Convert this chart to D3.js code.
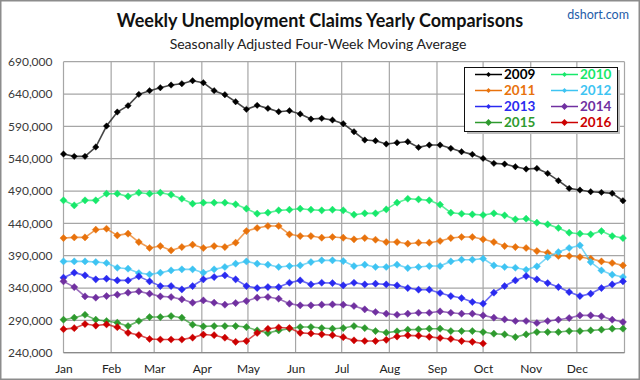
<!DOCTYPE html>
<html>
<head>
<meta charset="utf-8">
<style>
  body { margin: 0; background: #fff; }
  svg text { font-family: Lato, "Open Sans", sans-serif; }
</style>
</head>
<body>
<svg id="chart" width="640" height="380"></svg>
<script src="https://cdn.jsdelivr.net/npm/d3@7/dist/d3.min.js"></script>
<script>
'use strict';

// ========== data (initial claims, thousands, one value per week)

const years = ['2009', '2010', '2011', '2012', '2013', '2014', '2015', '2016'];
const colors = ['#000000', '#17e86b', '#e8720c', '#3ec4f2', '#2a2af0', '#7030a0', '#2e9a2e', '#cc0000'];
const months = ['Jan', 'Feb', 'Mar', 'Apr', 'May', 'Jun', 'Jul', 'Aug', 'Sep', 'Oct', 'Nov', 'Dec'];
const monthStart = [0, 31, 59, 90, 120, 151, 181, 212, 243, 273, 304, 334];
const yTicks = [240, 290, 340, 390, 440, 490, 540, 590, 640, 690];

const y2009 = [547.2, 543.6, 543.6, 558, 590.5, 612.2, 622, 639.5, 645.2, 649.8, 653.9, 656, 660.6,
  657.5, 645.2, 639, 628.1, 616.3, 622.5, 617.8, 612.7, 614.2, 609.1, 601.3, 602.4, 599.8, 594.1,
  581.7, 568.9, 567.8, 562.7, 564.7, 566.3, 557.5, 561.1, 561.1, 556, 550.8, 546.7, 540.5,
  532.8, 531.7, 527.6, 524, 525, 517.3, 506, 494.1, 491.5, 489, 487.9, 486.4, 475];
const y2010 = [475.6, 467.8, 475.6, 475.6, 485.9, 485.9, 481.8, 487.4, 485.9, 487.4, 484.3, 478.1, 470.4,
  472, 472, 472, 469.4, 462.7, 455, 456.5, 460.1, 461.1, 462.7, 461.1, 460.1, 461.1, 460.1,
  453.4, 455.5, 455.5, 461.6, 472, 478.1, 477.1, 475.6, 468.9, 456.5, 454.9, 453.9, 452.9,
  455.5, 452.4, 446.2, 447.2, 441, 438.4, 432.8, 425.6, 424, 423, 428.1, 420.4, 417.3];
const y2011 = [417.3, 418.3, 418.3, 430.2, 431.7, 421.4, 424, 411.1, 401.9, 404.9, 398.2, 403.4, 407,
  401.9, 404.9, 403.4, 410.1, 428.1, 432.8, 435.9, 435.9, 423, 420.4, 420.4, 417.8, 418.9, 417.8,
  415.3, 417.3, 414.7, 411.1, 411.1, 408.6, 410.1, 410.1, 412.7, 417.3, 418.9, 418.9, 415.3,
  411.1, 404.9, 403.4, 401.9, 397.2, 394.6, 389.5, 389.5, 387.9, 385.4, 381.2, 378.7, 375];
const y2012 = [381.2, 381.2, 381.2, 380.2, 378.7, 371.4, 369.9, 363.2, 361.1, 363.7, 367.3, 368.9, 368.9,
  363.7, 368.9, 372.5, 377.6, 381.2, 377.6, 376.1, 372.5, 374, 375, 380.2, 382.8, 382.8, 381.7,
  374, 376.1, 372.5, 372.5, 376.1, 370.9, 372.5, 374, 374, 381.2, 383.8, 383.8, 385.4,
  375, 372.5, 371.4, 368.3, 373.5, 387.9, 395.7, 401.9, 406, 380.2, 367.3, 360.6, 357];
const y2013 = [356, 363.7, 359.6, 353.4, 354.4, 351.8, 351.8, 358, 350.3, 343.1, 343.1, 337.9, 343.1,
  353.4, 357, 359.6, 353.4, 343.1, 340, 341.5, 341.5, 348.2, 351.8, 345.6, 348.2, 347.7, 344.1,
  348.2, 345.6, 346.7, 345.6, 344.1, 340, 337.4, 337.4, 332.3, 327.6, 324.5, 318.4, 315.8,
  332.8, 343.1, 351.8, 358.5, 353.4, 347.7, 341.5, 333.8, 327.6, 331.2, 340, 345.6, 350.3];
const y2014 = [350.3, 341.5, 327.1, 325.1, 327.6, 329.7, 332.8, 334.8, 331.2, 327.1, 326.1, 322.5, 317.3,
  320.9, 317.3, 314.2, 316.8, 319.9, 325.1, 326.1, 323.5, 315.8, 313.2, 313.2, 314.2, 314.7, 314.2,
  312.2, 307, 302.9, 300.3, 298.7, 300.3, 301.8, 301.8, 303.9, 301.8, 300.3, 300.3, 297.7,
  294.1, 291.5, 289, 289, 285.9, 289, 291, 293.6, 297.7, 297.7, 296.2, 291, 287.4];
const y2015 = [291, 294.1, 298.7, 291, 289, 286.4, 281.2, 289, 295.1, 295.1, 296.7, 294.1, 283.3,
  280.7, 281.2, 281.2, 281.2, 279.7, 274.5, 270.4, 274.5, 277.1, 279.7, 279.7, 278.1, 277.1, 278.1,
  281.2, 278.1, 273.5, 271, 273, 275.6, 276.1, 277.1, 277.1, 273.5, 273.5, 273.5, 271.9,
  269.4, 268.3, 264.2, 268.3, 271.9, 271.9, 271.9, 273.5, 273.5, 274.5, 275.6, 277.1, 277.1];
const y2016 = [276.4, 278, 284.3, 282, 283.8, 279.5, 270.7, 267.3, 261.2, 260.4, 260.4, 260.4, 263.3,
  268.1, 267.1, 263.2, 256.8, 258, 270.5, 277, 279, 278.2, 270.7, 269.7, 268.4, 267.1,
  264, 259.1, 258.1, 258, 259.9, 265, 266.8, 266.3, 264.5, 262.7, 261.2, 258, 256.8, 254.2];

const series = [y2009, y2010, y2011, y2012, y2013, y2014, y2015, y2016];

// ========== layout

const W = 640, H = 380;
const plot = { left: 63.5, right: 624.5, top: 61.7, bottom: 352.7 };

const svg = d3.select('#chart');

const x = d3.scaleLinear().domain([0, 365]).range([plot.left, plot.right]);
const y = d3.scaleLinear().domain([240, 690]).range([plot.bottom, plot.top]);

// outer frame
svg.append('rect')
  .attr('x', 0.75).attr('y', 0.75)
  .attr('width', W - 1.5).attr('height', H - 1.5)
  .attr('fill', '#fff')
  .attr('stroke', '#8c8c8c')
  .attr('stroke-width', 1.5);

// titles
svg.append('text')
  .attr('x', 320).attr('y', 27)
  .attr('text-anchor', 'middle')
  .style('font-size', '18px')
  .style('font-weight', 'bold')
  .attr('fill', '#111')
  .text('Weekly Unemployment Claims Yearly Comparisons');

svg.append('text')
  .attr('x', 318).attr('y', 49)
  .attr('text-anchor', 'middle')
  .style('font-size', '14px')
  .attr('fill', '#222')
  .text('Seasonally Adjusted Four-Week Moving Average');

svg.append('text')
  .attr('x', 629).attr('y', 19)
  .attr('text-anchor', 'end')
  .style('font-size', '12.5px')
  .attr('fill', '#1f5da8')
  .text('dshort.com');

// ========== grid

const grid = svg.append('g');

grid.selectAll('line.h')
  .data(yTicks)
  .enter().append('line')
  .attr('class', 'h')
  .attr('x1', plot.left).attr('x2', plot.right)
  .attr('y1', d => y(d)).attr('y2', d => y(d))
  .attr('stroke', '#a6a6a6')
  .attr('stroke-width', 1.2);

grid.selectAll('line.v')
  .data(monthStart.concat([365]))
  .enter().append('line')
  .attr('class', 'v')
  .attr('y1', plot.top).attr('y2', plot.bottom)
  .attr('x1', d => x(d)).attr('x2', d => x(d))
  .attr('stroke', '#a6a6a6')
  .attr('stroke-width', 1.2);

// bottom axis line
grid.append('line')
  .attr('x1', plot.left).attr('x2', plot.right)
  .attr('y1', plot.bottom).attr('y2', plot.bottom)
  .attr('stroke', '#8a8a8a')
  .attr('stroke-width', 1.3);

// ========== axes

const yAxis = svg.append('g')
  .attr('transform', `translate(${plot.left - 8},0)`)
  .call(d3.axisLeft(y)
    .tickValues(yTicks)
    .tickSize(0)
    .tickPadding(3)
    .tickFormat(d => d3.format(',')(d * 1000)));
yAxis.select('.domain').remove();
yAxis.selectAll('text')
  .style('font-family', 'Lato, sans-serif')
  .style('font-size', '12px')
  .attr('fill', '#3a3a3a');

const xAxis = svg.append('g')
  .attr('transform', `translate(0,${plot.bottom + 8})`)
  .call(d3.axisBottom(x)
    .tickValues(monthStart)
    .tickSize(0)
    .tickPadding(4)
    .tickFormat((d, i) => months[i]));
xAxis.select('.domain').remove();
xAxis.selectAll('text')
  .style('font-family', 'Lato, sans-serif')
  .style('font-size', '12px')
  .attr('fill', '#222');

// ========== lines

function diamond(r) {
  return `M0,${-r}L${r},0L0,${r}L${-r},0Z`;
}

const line = d3.line()
  .x((d, i) => x(i * 7))
  .y(d => y(d));

const marks = svg.append('g');

series.forEach((vals, k) => {
  const g = marks.append('g');
  g.append('path')
    .datum(vals)
    .attr('d', line)
    .attr('fill', 'none')
    .attr('stroke', k === 0 ? '#333' : colors[k])
    .attr('stroke-opacity', k === 0 ? 0.9 : 0.7)
    .attr('stroke-width', 1.6);
  g.selectAll('path.pt')
    .data(vals)
    .enter().append('path')
    .attr('class', 'pt')
    .attr('d', diamond(k === 0 ? 3.2 : 3.6))
    .attr('transform', (d, i) => `translate(${x(i * 7)},${y(d)})`)
    .attr('fill', colors[k])
    .attr('stroke', colors[k])
    .attr('stroke-opacity', 0.5)
    .attr('stroke-width', 0.8);
});

// ========== legend

const legend = svg.append('g').attr('transform', 'translate(464,67)');

legend.append('rect')
  .attr('x', 3).attr('y', 3)
  .attr('width', 153).attr('height', 64)
  .attr('fill', '#bdbdbd');

legend.append('rect')
  .attr('x', 0.5).attr('y', 0.5)
  .attr('width', 153).attr('height', 64)
  .attr('fill', '#fff')
  .attr('stroke', '#111')
  .attr('stroke-width', 1);

years.forEach((yr, k) => {
  const col = k % 2, row = Math.floor(k / 2);
  const ox = col === 0 ? 11 : 87;
  const oy = 7.5 + row * 16;
  const item = legend.append('g').attr('transform', `translate(${ox},${oy})`);
  item.append('line')
    .attr('x1', 0).attr('x2', 27)
    .attr('stroke', colors[k])
    .attr('stroke-width', 1.5);
  item.append('path')
    .attr('d', diamond(k >= 5 ? 3.4 : 2.4))
    .attr('transform', 'translate(13.5,0)')
    .attr('fill', colors[k]);
  item.append('text')
    .attr('x', 29).attr('y', 0)
    .attr('dy', '0.36em')
    .style('font-size', '13.5px')
    .style('font-weight', 'bold')
    .attr('fill', colors[k])
    .text(yr);
});
</script>
</body>
</html>
